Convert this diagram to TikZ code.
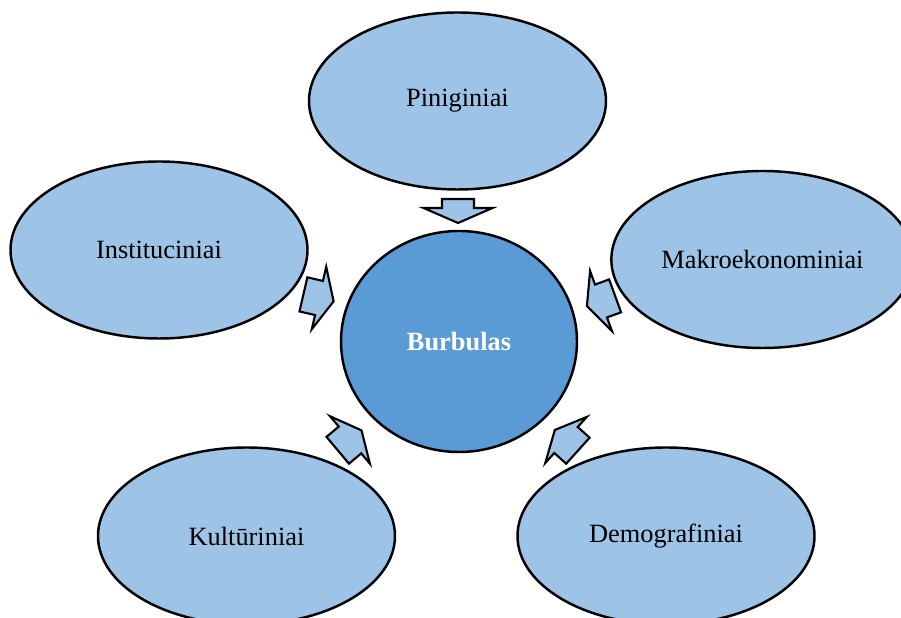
\documentclass[tikz,border=0pt]{standalone}
\usepackage{fontspec}
\setmainfont{Liberation Serif}
\usepackage{xcolor}
\usetikzlibrary{shapes.geometric}

\definecolor{sviesi}{RGB}{157,195,230}
\definecolor{tamsi}{RGB}{91,155,213}

% blokine rodykle: uodegos ilgis, galvos ilgis, koto puse, galvos puse
\tikzset{pics/rodykle/.style n args={4}{code={
  \draw[fill=sviesi, line width=1.2pt, line join=miter]
    (-#1,-#3) -- (0,-#3) -- (0,-#4) -- (#2,0) -- (0,#4) -- (0,#3) -- (-#1,#3) -- cycle;
}}}

\begin{document}
\begin{tikzpicture}[font=\fontsize{15}{18}\selectfont,
  veiksnys/.style={draw, ellipse, fill=sviesi, line width=1.4pt, minimum width=5.94cm, minimum height=3.54cm}]
  \useasboundingbox (0,0) rectangle (18.02,12.36);

  % Centrinis burbulas
  \node[draw, ellipse, fill=tamsi, line width=1.4pt, minimum width=4.72cm, minimum height=4.42cm, text=white, font=\fontsize{15}{18}\selectfont\bfseries] (bur) at (9.18,5.53) {Burbulas};

  % Veiksniai
  \node[veiksnys] (pin) at (9.15,10.34) {Piniginiai};
  \node[veiksnys] (ins) at (3.18,7.36) {Instituciniai};
  \node[veiksnys] (mak) at (15.25,7.17) {Makroekonominiai};
  \node[veiksnys] (kul) at (4.93,1.64) {Kultūriniai};
  \node[veiksnys] (dem) at (13.32,1.64) {Demografiniai};

  % Rodyklės link burbulo
  \pic[rotate=-90] at (9.16,8.20) {rodykle={0.18}{0.3}{0.32}{0.69}};
  \pic[rotate=-13] at (6.38,6.40) {rodykle={0.32}{0.3}{0.35}{0.64}};
  \pic[rotate=200] at (12.02,6.34) {rodykle={0.30}{0.3}{0.35}{0.64}};
  \pic[rotate=40] at (7.00,3.56) {rodykle={0.32}{0.3}{0.35}{0.62}};
  \pic[rotate=138] at (11.32,3.56) {rodykle={0.32}{0.3}{0.35}{0.62}};
\end{tikzpicture}
\end{document}
